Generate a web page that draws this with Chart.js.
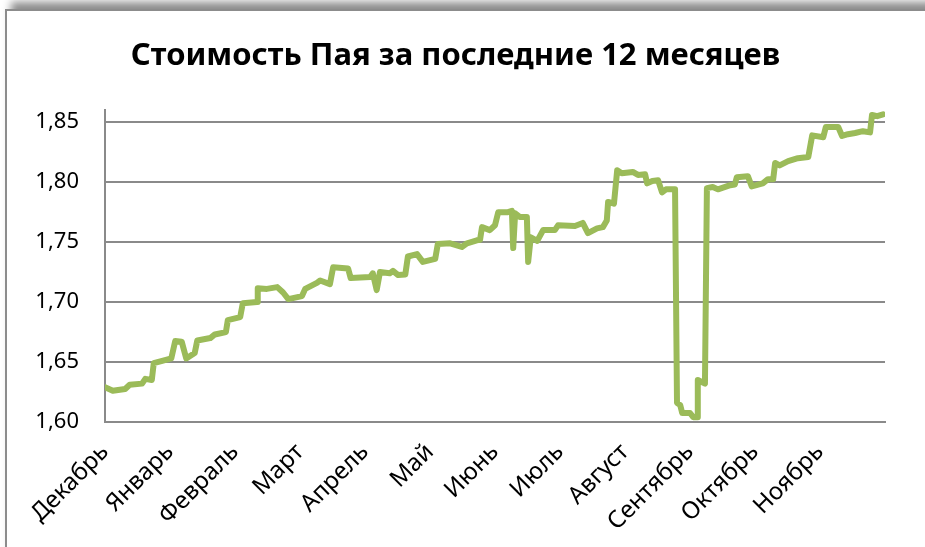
<!DOCTYPE html>
<html>
<head>
<meta charset="utf-8">
<script src="https://cdn.jsdelivr.net/npm/chart.js@4"></script>
<style>
  html, body { margin: 0; padding: 0; background: #fff; overflow: hidden; }
  #frame {
    position: absolute; left: 5px; top: 9px; width: 1000px; height: 700px;
    border: 2px solid #8c8c8c; box-shadow: 6px -7px 8px rgba(0,0,0,0.45); background: #fff;
  }
  #wrap { position: absolute; left: 0; top: 0; width: 925px; height: 547px; }
</style>
</head>
<body>
<div id="frame"></div>
<div id="wrap"><canvas id="chart" width="925" height="547"></canvas></div>
<script>
const chartTitle = 'Стоимость Пая за последние 12 месяцев';
const months = ['Декабрь', 'Январь', 'Февраль', 'Март', 'Апрель', 'Май', 'Июнь', 'Июль', 'Август', 'Сентябрь', 'Октябрь', 'Ноябрь'];
const monthStarts = [0, 1, 2, 3, 4, 5, 6, 7, 8, 9, 10, 11];
const yTicks = [1.60, 1.65, 1.70, 1.75, 1.80, 1.85];

// position on the time axis, in months from the start of December
const xPos = [
  0, 0.12, 0.31, 0.38, 0.57, 0.62, 0.72, 0.75, 0.88, 1.02, 1.08, 1.18, 1.25, 1.38, 1.42, 1.62, 1.69, 1.86, 1.89,
  2.08, 2.12, 2.34, 2.35, 2.49, 2.65, 2.74, 2.82, 3.03, 3.08, 3.26, 3.31, 3.46, 3.51, 3.74, 3.78,
  4.08, 4.12, 4.18, 4.23, 4.38, 4.43, 4.51, 4.62, 4.66, 4.80, 4.89, 5.08, 5.12, 5.31, 5.49, 5.57, 5.72, 5.77,
  5.80, 5.92, 6.00, 6.05, 6.20, 6.26, 6.28, 6.31, 6.38, 6.49, 6.51, 6.55, 6.65, 6.74, 6.92, 6.97,
  7.23, 7.35, 7.43, 7.57, 7.66, 7.72, 7.74, 7.83, 7.88, 7.95, 8.12, 8.20, 8.31, 8.34, 8.42, 8.51, 8.57, 8.63, 8.77,
  8.80, 8.85, 8.88, 9.00, 9.05, 9.11, 9.12, 9.23, 9.26, 9.35, 9.43, 9.62, 9.69, 9.72, 9.89, 9.95,
  10.12, 10.20, 10.28, 10.31, 10.38, 10.51, 10.66, 10.82, 10.88, 11.05, 11.09, 11.28, 11.34, 11.43, 11.54, 11.66, 11.77, 11.80, 11.88, 11.97
];
const price = [
  1.629, 1.626, 1.6275, 1.631, 1.632, 1.636, 1.635, 1.649, 1.651, 1.653, 1.6675, 1.667, 1.653, 1.6575, 1.668, 1.670, 1.673, 1.675, 1.685,
  1.6875, 1.699, 1.700, 1.7115, 1.711, 1.7125, 1.708, 1.7025, 1.705, 1.711, 1.716, 1.718, 1.715, 1.729, 1.728, 1.720,
  1.721, 1.724, 1.710, 1.725, 1.724, 1.726, 1.7225, 1.723, 1.738, 1.740, 1.7335, 1.736, 1.7485, 1.749, 1.746, 1.749, 1.7515, 1.752,
  1.7625, 1.760, 1.764, 1.775, 1.775, 1.776, 1.745, 1.774, 1.771, 1.771, 1.7335, 1.754, 1.751, 1.760, 1.760, 1.764,
  1.7635, 1.766, 1.7575, 1.7615, 1.7625, 1.768, 1.7835, 1.782, 1.810, 1.8075, 1.8085, 1.806, 1.8065, 1.799, 1.801, 1.8015, 1.7915, 1.794, 1.794,
  1.616, 1.614, 1.6075, 1.6075, 1.604, 1.604, 1.635, 1.632, 1.795, 1.796, 1.794, 1.7975, 1.798, 1.804, 1.805, 1.7965,
  1.799, 1.8025, 1.8025, 1.816, 1.814, 1.8175, 1.820, 1.821, 1.839, 1.8375, 1.846, 1.846, 1.8385, 1.840, 1.841, 1.8425, 1.8415, 1.856, 1.855, 1.8565
];

const gridColor = '#8a8a8a';
const fontFamily = '"Noto Sans", "DejaVu Sans", sans-serif';

new Chart(document.getElementById('chart'), {
  type: 'line',
  data: {
    datasets: [{
      data: xPos.map((x, i) => ({ x: x, y: price[i] })),
      borderColor: '#9bbb59',
      borderWidth: 6,
      borderJoinStyle: 'round',
      borderCapStyle: 'round',
      pointRadius: 0,
      tension: 0,
      fill: false
    }]
  },
  options: {
    responsive: false,
    animation: false,
    layout: { padding: { left: 26, right: 40, top: 0, bottom: 0 } },
    plugins: {
      legend: { display: false },
      tooltip: { enabled: false },
      title: {
        display: true,
        text: chartTitle,
        color: '#000',
        font: { family: fontFamily, size: 31, weight: 'bold', lineHeight: 1.2 },
        padding: { top: 38, bottom: 35 }
      }
    },
    scales: {
      x: {
        type: 'linear',
        min: 0,
        max: 12,
        afterBuildTicks: s => { s.ticks = monthStarts.map(v => ({ value: v })); },
        afterFit: s => { s.height = 125; },
        grid: { display: false },
        border: { display: true, color: gridColor, width: 2 },
        ticks: {
          autoSkip: false,
          maxRotation: 45,
          minRotation: 45,
          padding: 8,
          color: '#000',
          font: { family: fontFamily, size: 24 },
          callback: (v, i) => months[i]
        }
      },
      y: {
        min: 1.60,
        max: 1.86,
        afterBuildTicks: s => { s.ticks = yTicks.map(v => ({ value: v })); },
        afterFit: s => { s.width = 79; },
        grid: { color: gridColor, lineWidth: 2, drawTicks: false },
        border: { display: true, color: gridColor, width: 2 },
        ticks: {
          padding: 26,
          color: '#000',
          font: { family: fontFamily, size: 22 },
          callback: v => v.toFixed(2).replace('.', ',')
        }
      }
    }
  }
});
</script>
</body>
</html>
